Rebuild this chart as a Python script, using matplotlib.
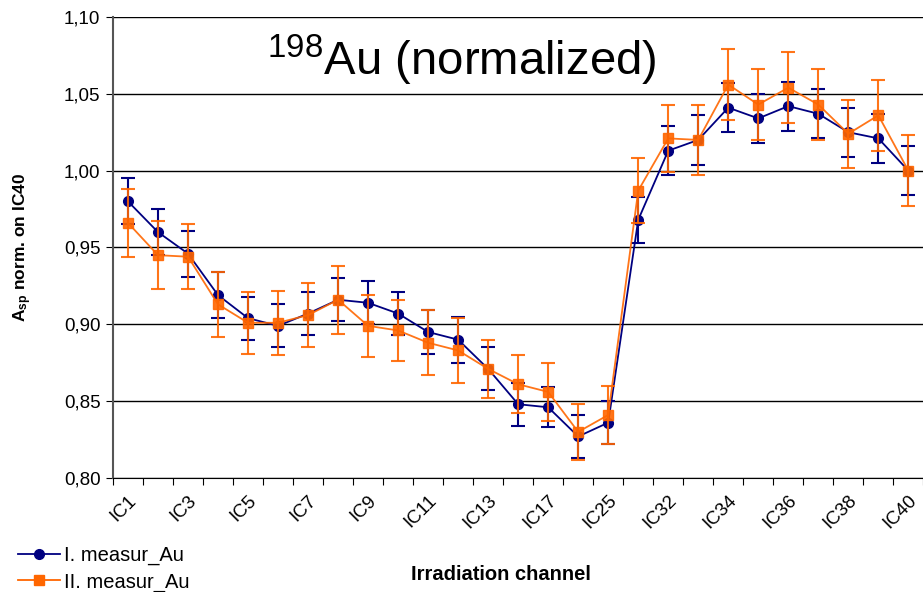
import numpy as np
import matplotlib
matplotlib.use('Agg')
from matplotlib import pyplot as plt
from matplotlib.lines import Line2D

plt.rcParams['font.family'] = ['Liberation Sans', 'DejaVu Sans']
plt.rcParams['mathtext.fontset'] = 'custom'
plt.rcParams['mathtext.rm'] = 'Liberation Sans'
plt.rcParams['mathtext.bf'] = 'Liberation Sans:bold'

CHANNELS = ['IC1', 'IC2', 'IC3', 'IC4', 'IC5', 'IC6', 'IC7', 'IC8', 'IC9',
            'IC10', 'IC11', 'IC12', 'IC13', 'IC15', 'IC17', 'IC21', 'IC25',
            'IC30', 'IC32', 'IC33', 'IC34', 'IC35', 'IC36', 'IC37', 'IC38',
            'IC39', 'IC40']

MEAS1 = [0.980, 0.960, 0.946, 0.919, 0.904, 0.899, 0.907, 0.916, 0.914,
         0.907, 0.895, 0.890, 0.871, 0.848, 0.846, 0.827, 0.836,
         0.968, 1.013, 1.020, 1.041, 1.034, 1.042, 1.037, 1.025, 1.021, 1.000]
ERR1 = [0.015, 0.015, 0.015, 0.015, 0.014, 0.014, 0.014, 0.014, 0.014,
        0.014, 0.014, 0.015, 0.014, 0.014, 0.013, 0.014, 0.014,
        0.015, 0.016, 0.016, 0.016, 0.016, 0.016, 0.016, 0.016, 0.016, 0.016]

MEAS2 = [0.966, 0.945, 0.944, 0.913, 0.901, 0.901, 0.906, 0.916, 0.899,
         0.896, 0.888, 0.883, 0.871, 0.861, 0.856, 0.830, 0.841,
         0.987, 1.021, 1.020, 1.056, 1.043, 1.054, 1.043, 1.024, 1.036, 1.000]
ERR2 = [0.022, 0.022, 0.021, 0.021, 0.020, 0.021, 0.021, 0.022, 0.020,
        0.020, 0.021, 0.021, 0.019, 0.019, 0.019, 0.018, 0.019,
        0.021, 0.022, 0.023, 0.023, 0.023, 0.023, 0.023, 0.022, 0.023, 0.023]

BLUE = '#000080'
ORANGE = '#FF6600'


def main():
    fig = plt.figure(figsize=(9.23, 5.92), dpi=100)
    ax = fig.add_axes([0.1224, 0.1926, 0.878, 0.7787])

    x = np.arange(len(CHANNELS))
    ax.errorbar(x, MEAS1, yerr=ERR1, color=BLUE, ecolor=BLUE, lw=1.3,
                elinewidth=1.5, capsize=5, capthick=1.5, marker='o',
                markersize=7, zorder=3)
    ax.errorbar(x, MEAS2, yerr=ERR2, color=ORANGE, ecolor=ORANGE, lw=1.3,
                elinewidth=1.5, capsize=5, capthick=1.5, marker='s',
                markersize=7, zorder=4, alpha=0.9)

    ax.set_xlim(-0.5, len(CHANNELS) - 0.5)
    ax.set_ylim(0.80, 1.10)
    ticks = np.arange(0.80, 1.101, 0.05)
    ax.set_yticks(ticks)
    ax.set_yticklabels([f'{v:.2f}'.replace('.', ',') for v in ticks],
                       fontsize=13.5)
    ax.yaxis.grid(True, color='black', lw=1)
    ax.set_axisbelow(True)

    ax.set_xticks(np.arange(-0.5, len(CHANNELS), 1.0))
    ax.set_xticklabels([])
    ax.set_xticks(x[::2], minor=True)
    ax.set_xticklabels(CHANNELS[::2], minor=True, rotation=45, ha='right',
                       rotation_mode='anchor', fontsize=13.5)
    ax.tick_params(axis='x', which='minor', length=0, pad=10)
    ax.tick_params(axis='x', which='major', length=5, direction='out')
    ax.tick_params(axis='y', length=5, direction='out', pad=4)

    for s in ('top', 'right'):
        ax.spines[s].set_visible(False)
    ax.spines['left'].set_color('#555555')
    ax.spines['left'].set_linewidth(1.5)
    ax.spines['bottom'].set_color('black')

    ax.text(0.43, 0.905, r'$^{198}$Au (normalized)', transform=ax.transAxes,
            ha='center', va='center', fontsize=34)

    ax.set_ylabel(r'$\mathbf{A_{sp}}$ norm. on IC40', fontsize=12.5,
                  fontweight='bold')
    ax.yaxis.set_label_coords(-0.097, 0.5)
    fig.text(0.543, 0.029, 'Irradiation channel', ha='center', va='center',
             fontsize=14.5, fontweight='bold')

    handles = [
        Line2D([], [], color=BLUE, marker='o', markersize=7, lw=1.3),
        Line2D([], [], color=ORANGE, marker='s', markersize=7, lw=1.3),
    ]
    fig.legend(handles, ['I. measur_Au', 'II. measur_Au'], loc='lower left',
               bbox_to_anchor=(0.0, -0.03), frameon=False, fontsize=14.5,
               handlelength=2.1, handletextpad=0.2, labelspacing=0.35)

    fig.savefig('out.png', dpi=100)


if __name__ == '__main__':
    main()
